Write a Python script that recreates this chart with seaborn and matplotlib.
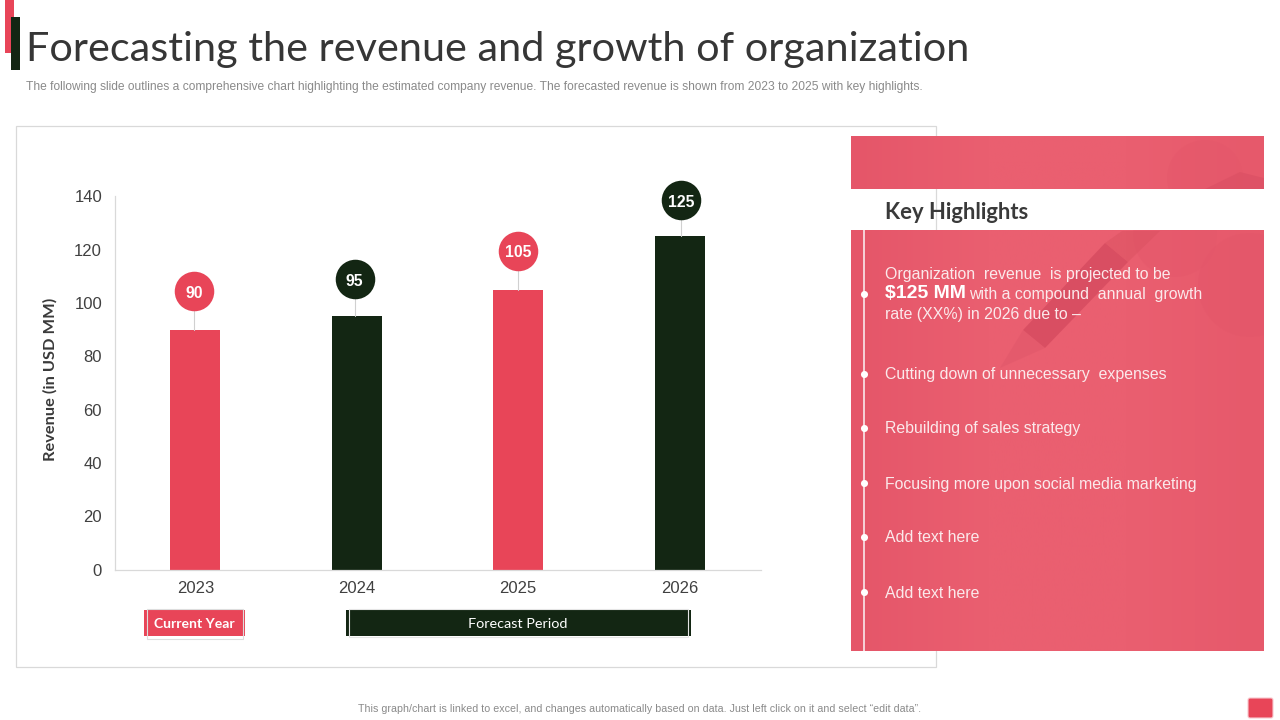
import matplotlib
matplotlib.use("Agg")
import matplotlib.pyplot as plt
import numpy as np
import pandas as pd
import seaborn as sns
from matplotlib.colors import LinearSegmentedColormap
from matplotlib.patches import Rectangle, Polygon, FancyBboxPatch, Circle

years = ["2023", "2024", "2025", "2026"]
revenue = [90, 95, 105, 125]
bar_colors = ["#E84558", "#132613", "#E84558", "#132613"]
title = "Forecasting the revenue and growth of organization"
subtitle = ("The following slide outlines a comprehensive chart highlighting the estimated company revenue. "
            "The forecasted revenue is shown from 2023 to 2025 with key highlights.")
footer = "This graph/chart is linked to excel, and changes automatically based on data. Just left click on it and select \u201cedit data\u201d."
highlights = ["Cutting down of unnecessary  expenses", "Rebuilding of sales strategy",
              "Focusing more upon social media marketing", "Add text here", "Add text here"]
highlight_y = [375, 429, 484, 538, 593]

RED, DARK, PANEL = "#E84558", "#132613", "#E95C6D"
W, H = 1280, 720
sns.set_theme(style="white")
plt.rcParams["font.family"] = ["Liberation Sans", "DejaVu Sans"]
fig = plt.figure(figsize=(12.8, 7.2), dpi=100, facecolor="white")

# pixel-coordinate layer for the slide furniture
bg = fig.add_axes([0, 0, 1, 1], zorder=0)

def rect(x, y, w, h, **kw):
    kw.setdefault("linewidth", 0)
    p = Rectangle((x, y), w, h, **kw)
    bg.add_patch(p)
    return p

rect(5, 0, 9, 53, facecolor=RED)
rect(11, 17, 9, 53, facecolor=DARK)
bg.text(25.5, 49.5, title, family="Lato", fontsize=29.8, color="#363636", va="center", ha="left")
bg.text(26, 87, subtitle, fontsize=8.64, color="#8A8A8A", va="center", ha="left")
rect(16, 126, 920, 541, facecolor="white", edgecolor="#D9D9D9", linewidth=0.9)

# right panel: two bands with a soft horizontal shading
shade = LinearSegmentedColormap.from_list("shade", ["#E55669", "#EA5F70", "#EA5F70", "#E6596B"])
ramp = np.linspace(0, 1, 256).reshape(1, -1)
bg.imshow(ramp, cmap=shade, extent=(851, 1264, 189, 136), aspect="auto", zorder=1)
bg.imshow(ramp, cmap=shade, extent=(851, 1264, 651, 230), aspect="auto", zorder=1)
top_band = rect(851, 136, 413, 53, facecolor="none", zorder=1)
low_band = rect(851, 230, 413, 421, facecolor="none", zorder=1)
for shape, clip in [
    (Circle((1205, 178), 38, facecolor="#E4576A", alpha=0.45, lw=0), top_band),
    (Polygon([(1205, 189), (1240, 172), (1264, 178), (1264, 189)], facecolor="#D94E62", alpha=0.55, lw=0), top_band),
    (Circle((1250, 285), 52, facecolor="#E4576A", alpha=0.6, lw=0), low_band),
    (Circle((1175, 235), 42, facecolor="#E4576A", alpha=0.45, lw=0), low_band),
    (Polygon([(1023, 330), (1045, 348), (1128, 262), (1105, 243)], facecolor="#CF4459", alpha=0.6, lw=0), low_band),
    (Polygon([(1105, 243), (1128, 262), (1160, 231), (1122, 231)], facecolor="#D9505F", alpha=0.45, lw=0), low_band),
    (Polygon([(1023, 330), (1045, 348), (1000, 368)], facecolor="#DD5468", alpha=0.4, lw=0), low_band),
]:
    shape.set_zorder(1.5)
    bg.add_patch(shape)
    shape.set_clip_path(clip)
bg.plot([863.5, 863.5], [230, 651], color="#F8DDE1", lw=1.3, solid_capstyle="butt", zorder=2)
bg.text(885, 212.5, "Key Highlights", family="Lato", fontweight="bold", fontsize=15.8, color="#3A3A3A", va="center")

tc = "#FBE9EB"
body = 11.45
bg.text(885, 274, "Organization  revenue  is projected to be", fontsize=body, color=tc, va="center", zorder=3)
bg.text(885, 294, "$125 MM", fontsize=14, fontweight="bold", color="white", va="center", parse_math=False, zorder=3)
bg.text(969, 295, "with a compound  annual  growth", fontsize=body, color=tc, va="center", zorder=3)
bg.text(885, 315, "rate (XX%) in 2026 due to \u2013", fontsize=body, color=tc, va="center", parse_math=False, zorder=3)
bg.scatter([863.5], [294], s=26, color="white", zorder=4, lw=0)
for label, y in zip(highlights, highlight_y):
    bg.text(885, y, label, fontsize=body, color=tc, va="center", zorder=3)
    bg.scatter([863.5], [y - 1.5], s=26, color="white", zorder=4, lw=0)

# legend tags under the chart
rect(144, 610, 101, 26, facecolor=RED)
rect(146.5, 608.5, 96, 30, facecolor="none", edgecolor="#DDDDDD", linewidth=0.8)
bg.text(194.5, 623.5, "Current Year", family="Lato", fontweight="bold", fontsize=10.1, color="white", ha="center", va="center")
rect(345.5, 610, 345, 26, facecolor=DARK)
rect(349, 608.5, 339, 28, facecolor="none", edgecolor="#E5E5E5", linewidth=0.8)
bg.text(518, 623.5, "Forecast Period", family="Lato", fontsize=10.4, color="white", ha="center", va="center")

bg.text(640, 709, footer, fontsize=7.64, color="#8A8A8A", ha="center", va="center")
bg.add_patch(FancyBboxPatch((1248, 698), 25, 20, boxstyle="round,pad=0,rounding_size=2",
                            facecolor=RED, edgecolor="#F8C9CF", linewidth=0.8))
bg.set_xlim(0, W)
bg.set_ylim(H, 0)
bg.axis("off")

# chart
ax = fig.add_axes([114.5 / W, 1 - 569.5 / H, 646 / W, (569 - 196) / H], zorder=2)
ax.patch.set_alpha(0)
df = pd.DataFrame({"year": years, "revenue": revenue})
sns.barplot(data=df, x="year", y="revenue", hue="year", palette=bar_colors, legend=False,
            width=0.312, saturation=1, linewidth=0, ax=ax)
ax.set_xlim(-0.5, 3.5)
ax.set_ylim(0, 140)
ax.set_yticks(range(0, 141, 20))
ax.tick_params(axis="both", length=0, labelsize=12, labelcolor="#404040")
ax.tick_params(axis="x", pad=8.5)
ax.tick_params(axis="y", pad=9)
ax.set_xlabel("")
ax.set_ylabel("Revenue (in USD MM)", family="Lato", fontweight="bold", fontsize=11.8, color="#3A3A3A",
              labelpad=12, y=0.51)
for side in ("top", "right"):
    ax.spines[side].set_visible(False)
for side in ("left", "bottom"):
    ax.spines[side].set_color("#D9D9D9")
    ax.spines[side].set_linewidth(0.9)

bubble_gap = [14.35, 13.9, 14.7, 13.5]
bubble_dx = [-0.005, -0.012, 0.0, 0.01]
for i, (v, c, gap, dx) in enumerate(zip(revenue, bar_colors, bubble_gap, bubble_dx)):
    ax.plot([i + dx, i + dx], [v, v + gap], color="#D0D0D0", lw=0.8, zorder=3, clip_on=False)
    ax.scatter([i + dx], [v + gap], s=810, color=c, zorder=4, clip_on=False, lw=0)
    ax.text(i + dx, v + gap - 0.2, str(v), color="white", fontweight="bold", fontsize=11.3,
            ha="center", va="center_baseline", zorder=5)

fig.savefig("out.png", dpi=100)
